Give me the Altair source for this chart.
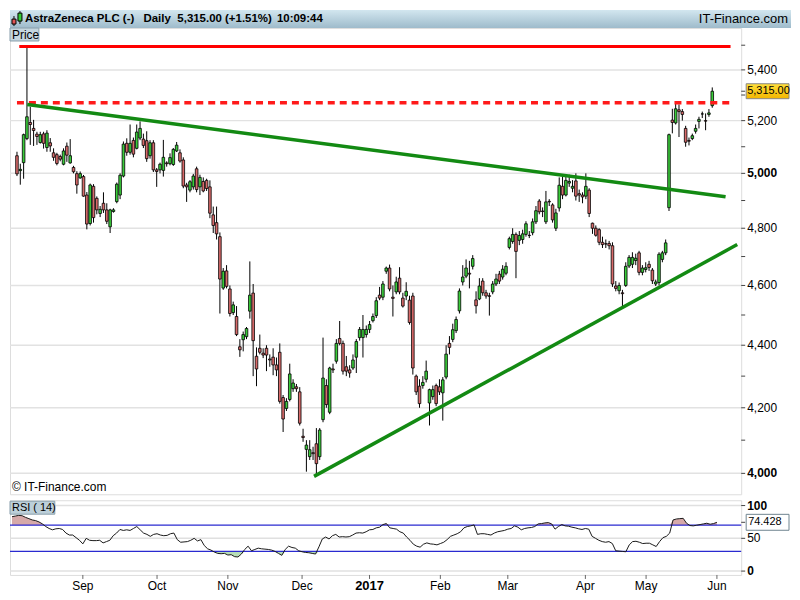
import altair as alt
import pandas as pd

# ---------------- values ----------------
opens = [
    5066, 5010, 5040, 5131, 5193, 5170, 5148, 5116, 5149, 5097,
    5115, 5077, 5070, 5063, 5034, 5102, 5039, 5022, 4999, 4983,
    4988, 4920, 4817, 4952, 4908, 4853, 4890, 4866, 4805, 4860,
    4896, 4920, 4990, 5113, 5079, 5124, 5094, 5133, 5129, 5123,
    5066, 5115, 5013, 5013, 5011, 5039, 5036, 5033, 5084, 5077,
    5050, 4957, 4938, 4950, 5017, 4950, 4970, 4974, 4950, 4848,
    4820, 4770, 4591, 4650, 4588, 4508, 4495, 4395, 4418, 4428,
    4513, 4574, 4364, 4390, 4374, 4390, 4355, 4361, 4336, 4377,
    4232, 4198, 4226, 4260, 4266, 4250, 4112, 4072, 4050, 4062,
    4089, 4050, 4163, 4270, 4186, 4323, 4348, 4422, 4406, 4330,
    4320, 4326, 4361, 4425, 4425, 4435, 4452, 4481, 4498, 4567,
    4560, 4649, 4660, 4560, 4578, 4625, 4557, 4564, 4550, 4564,
    4300, 4268, 4270, 4290, 4215, 4235, 4270, 4266, 4247, 4297,
    4406, 4419, 4448, 4514, 4612, 4632, 4642, 4666, 4551, 4554,
    4615, 4575, 4565, 4578, 4605, 4639, 4629, 4642, 4732, 4753,
    4778, 4757, 4760, 4778, 4775, 4784, 4823, 4898, 4862, 4823,
    4897, 4884, 4800, 4873, 4952, 4920, 4964, 4945, 4972, 4925,
    4920, 4916, 4938, 4818, 4800, 4795, 4750, 4745, 4746, 4738,
    4598, 4582, 4575, 4600, 4667, 4673, 4686, 4713, 4645, 4655,
    4673, 4653, 4605, 4610, 4690, 4713, 4874, 5202, 5191, 5242,
    5235, 5170, 5124, 5131, 5159, 5197, 5226, 5200, 5224, 5258,
]
highs = [
    5081, 5036, 5150, 5493, 5254, 5203, 5157, 5157, 5157, 5163,
    5133, 5094, 5077, 5070, 5094, 5116, 5129, 5028, 5008, 5007,
    4994, 4931, 4962, 4960, 4915, 4880, 4930, 4890, 4870, 4872,
    4966, 5000, 5120, 5132, 5185, 5135, 5185, 5197, 5150, 5159,
    5125, 5125, 5020, 5040, 5126, 5045, 5075, 5095, 5118, 5090,
    5060, 4965, 4975, 4998, 5025, 4995, 4985, 4980, 4974, 4878,
    4878, 4785, 4660, 4670, 4600, 4545, 4530, 4420, 4445, 4460,
    4683, 4605, 4393, 4435, 4390, 4400, 4370, 4390, 4360, 4406,
    4240, 4230, 4340, 4290, 4275, 4265, 4135, 4100, 4100, 4080,
    4137, 4137, 4425, 4290, 4330, 4340, 4420, 4480, 4415, 4365,
    4335, 4370, 4420, 4460, 4500, 4465, 4480, 4505, 4560, 4595,
    4615, 4665, 4672, 4600, 4630, 4663, 4575, 4611, 4565, 4575,
    4305, 4290, 4300, 4350, 4260, 4270, 4276, 4290, 4297, 4400,
    4430, 4471, 4495, 4590, 4670, 4690, 4685, 4705, 4580, 4625,
    4625, 4585, 4575, 4615, 4640, 4650, 4670, 4680, 4770, 4800,
    4785, 4790, 4795, 4825, 4790, 4835, 4880, 4905, 4875, 4935,
    4905, 4890, 4870, 4985, 4990, 4990, 4995, 4975, 5000, 4940,
    4930, 5000, 4945, 4820, 4810, 4800, 4770, 4760, 4755, 4750,
    4615, 4610, 4585, 4680, 4705, 4715, 4710, 4720, 4670, 4680,
    4685, 4660, 4620, 4715, 4720, 4760, 5150, 5246, 5265, 5263,
    5245, 5180, 5135, 5150, 5185, 5215, 5235, 5228, 5245, 5330,
]
lows = [
    4990, 4958, 4980, 5125, 5107, 5103, 5107, 5112, 5093, 5081,
    5081, 5047, 5030, 5045, 5030, 5043, 5036, 5000, 4925, 4980,
    4914, 4796, 4810, 4820, 4850, 4840, 4855, 4815, 4783, 4856,
    4890, 4905, 4985, 5066, 5070, 5060, 5090, 5125, 5095, 5043,
    5055, 5005, 4950, 5000, 4988, 5025, 5030, 5028, 5080, 5040,
    4945, 4895, 4930, 4940, 4930, 4920, 4930, 4935, 4836, 4783,
    4760, 4505, 4585, 4590, 4495, 4500, 4430, 4362, 4380, 4420,
    4488, 4300, 4268, 4370, 4358, 4316, 4330, 4303, 4300, 4213,
    4125, 4190, 4220, 4250, 4250, 4145, 4095, 4005, 4040, 4040,
    3995, 4040, 4155, 4200, 4180, 4310, 4340, 4400, 4305, 4300,
    4295, 4320, 4310, 4415, 4360, 4425, 4440, 4475, 4490, 4550,
    4550, 4640, 4580, 4495, 4570, 4570, 4525, 4550, 4468, 4305,
    4240, 4200, 4260, 4280, 4145, 4225, 4205, 4240, 4160, 4290,
    4370, 4410, 4440, 4505, 4600, 4625, 4590, 4655, 4505, 4550,
    4565, 4555, 4498, 4570, 4598, 4605, 4620, 4635, 4725, 4745,
    4625, 4740, 4745, 4770, 4765, 4775, 4815, 4850, 4840, 4815,
    4880, 4820, 4790, 4860, 4905, 4915, 4950, 4930, 4900, 4895,
    4890, 4905, 4840, 4780, 4770, 4740, 4730, 4730, 4725, 4595,
    4580, 4570, 4525, 4595, 4660, 4660, 4670, 4635, 4635, 4645,
    4650, 4605, 4598, 4600, 4680, 4705, 4862, 5151, 5185, 5137,
    5200, 5100, 5105, 5125, 5150, 5170, 5210, 5163, 5215, 5250,
]
closes = [
    4998, 5015, 5146, 5215, 5185, 5162, 5139, 5146, 5113, 5152,
    5103, 5060, 5037, 5053, 5084, 5068, 5066, 5006, 4957, 4999,
    4916, 4815, 4957, 4838, 4866, 4868, 4866, 4825, 4866, 4866,
    4960, 4993, 5110, 5079, 5113, 5072, 5156, 5170, 5105, 5055,
    5115, 5013, 5007, 5034, 5060, 5036, 5059, 5090, 5106, 5046,
    4953, 4950, 4969, 4990, 4940, 4985, 4935, 4944, 4854, 4810,
    4780, 4622, 4649, 4597, 4505, 4534, 4435, 4385, 4435, 4455,
    4567, 4415, 4323, 4377, 4368, 4368, 4352, 4336, 4320, 4220,
    4165, 4220, 4307, 4278, 4260, 4152, 4108, 4085, 4071, 4059,
    4029, 4131, 4294, 4210, 4326, 4320, 4406, 4406, 4316, 4316,
    4310, 4352, 4412, 4452, 4452, 4452, 4468, 4495, 4548, 4557,
    4605, 4660, 4588, 4556, 4612, 4578, 4530, 4580, 4475, 4326,
    4250, 4213, 4280, 4316, 4257, 4257, 4213, 4250, 4288, 4371,
    4393, 4451, 4485, 4581, 4629, 4660, 4639, 4693, 4531, 4598,
    4575, 4564, 4563, 4605, 4622, 4615, 4656, 4666, 4763, 4778,
    4718, 4774, 4780, 4816, 4774, 4823, 4863, 4859, 4860, 4895,
    4895, 4830, 4855, 4956, 4920, 4974, 4970, 4952, 4916, 4920,
    4913, 4952, 4853, 4800, 4775, 4750, 4742, 4744, 4738, 4605,
    4590, 4600, 4572, 4666, 4697, 4697, 4694, 4645, 4660, 4661,
    4662, 4616, 4612, 4708, 4713, 4748, 5146, 5193, 5246, 5235,
    5224, 5117, 5121, 5142, 5170, 5205, 5226, 5198, 5230, 5315,
]
rsi_values = [
    83, 84, 85, 84.5, 82, 80, 78, 77, 75, 72,
    68, 65, 63, 64.5, 65, 63.5, 58, 55, 55, 51,
    47, 41.5, 50, 47, 46.5, 46.5, 47, 43, 45, 47,
    54, 58, 63.5, 62, 63, 62, 65, 68, 63, 58,
    56, 53, 56, 57, 55, 54, 54.5, 57, 58, 48,
    44, 44.5, 45, 47, 50, 46, 48, 39, 34, 32,
    29, 27, 26.5, 27, 24.5, 25, 22, 21.5, 26, 33,
    38, 31, 33, 35, 34, 33.5, 33, 32, 30, 27,
    24, 33, 38, 36, 35, 31, 29.5, 28.5, 28, 27,
    26, 37, 49, 52, 49, 54, 56, 52, 52.5, 52,
    52.5, 55, 58, 58.5, 58, 60, 63, 63.5, 66, 67,
    71, 72.5, 66, 65, 64, 60, 58, 52, 47, 41,
    38, 36.5, 41, 43, 41.5, 41, 40, 42, 44, 48,
    53, 55, 57, 60, 66, 68, 69, 70.5, 56, 57,
    57, 56, 55, 58, 60, 61, 62, 64, 65, 69,
    67, 63, 65, 66, 66.5, 68, 72, 72.5, 73.5, 74,
    72, 64, 68, 71, 69, 68.5, 67, 66, 64.5, 63.5,
    65, 64, 53, 50, 47, 45, 44, 45, 42, 31,
    30.5, 30, 29.5, 40, 45, 45.5, 44, 42, 42.5, 42.5,
    40, 37.5, 45, 51, 53, 58, 78, 79.5, 80, 80.5,
    73, 69.5, 69, 70, 71, 72, 73, 71.5, 72.5, 74.428,
]
month_labels = ["Sep", "Oct", "Nov", "Dec", "2017", "Feb", "Mar", "Apr", "May", "Jun"]
month_index = [21, 43, 64, 86, 106, 127, 147, 170, 188, 209]
year_label = "2017"
price_ticks = [4000, 4100, 4200, 4300, 4400, 4500, 4600, 4700, 4800,
               4900, 5000, 5100, 5200, 5300, 5400, 5500]
price_labels = [4000, 4200, 4400, 4600, 4800, 5000, 5200, 5400]
bold_price_labels = [4000, 5000]
resistance_span = [0.7, 214.5]
resistance_level = 5495
pivot_span = [0.0, 215.0]
pivot_level = 5270
trend_down_x = [3.1, 213.0]
trend_down_y = [5263, 4914]
trend_up_x = [89.3, 216.5]
trend_up_y = [3991, 4742]
last_price = 5315.00
last_change = "+1.51%"
last_time = "10:09:44"
last_rsi = 74.428
rsi_levels = [30, 70]
rsi_grid = [0, 50, 100]
bold_rsi_labels = [0, 100]

# ---------------- chart ----------------
FONT = "Liberation Sans"
W, H, RH, HEADER, FULLW = 734, 468, 75, 18, 784

n = len(closes)
candles = pd.DataFrame({
    "i": list(range(n)),
    "o": opens,
    "c": closes,
    "h": [max(a, b, c) for a, b, c in zip(highs, opens, closes)],
    "l": [min(a, b, c) for a, b, c in zip(lows, opens, closes)],
})
candles["dir"] = ["up" if c >= o else "down" for o, c in zip(opens, closes)]

xs = alt.Scale(domain=[-0.6, 216.2], nice=False, zero=False)
ys = alt.Scale(type="log", domain=[3938.3, 5570.7], nice=False)
rs = alt.Scale(domain=[-5.9, 108.1], nice=False, zero=False)
one = pd.DataFrame({"k": [0]})
xq = alt.X("i:Q", scale=xs, axis=None)


def Yp(field):
    return alt.Y(field, scale=ys, axis=None)


def Yr(field):
    return alt.Y(field, scale=rs, axis=None)


def txt(s, x, y, size=12, bold=False, align="left"):
    return alt.Chart(one).mark_text(text=s, align=align, baseline="middle", fontSize=size,
                                    fontWeight="bold" if bold else "normal", font=FONT, color="#000").encode(
        x=alt.value(x), y=alt.value(y))


def box(x1, x2, y1, y2, fill, stroke):
    return alt.Chart(one).mark_rect(fill=fill, stroke=stroke, strokeWidth=1).encode(
        x=alt.value(x1), x2=alt.value(x2), y=alt.value(y1), y2=alt.value(y2))


# ---- price panel ----
grid = alt.Chart(pd.DataFrame({"v": price_labels})).mark_rule(color="#e2e2e2", strokeWidth=1.5).encode(
    y=Yp("v:Q"))
wicks = alt.Chart(candles).mark_rule(color="#000", strokeWidth=1).encode(x=xq, y=Yp("l:Q"), y2="h:Q")
bodies = alt.Chart(candles).mark_bar(size=2.6, stroke="#000", strokeWidth=0.8).encode(
    x=xq, y=Yp("o:Q"), y2="c:Q",
    color=alt.Color("dir:N", scale=alt.Scale(domain=["up", "down"], range=["#3acc3a", "#d86a6a"]), legend=None))

res_df = pd.DataFrame({"i": resistance_span, "p": [resistance_level] * 2})
piv_df = pd.DataFrame({"i": pivot_span, "p": [pivot_level] * 2})
red_solid = alt.Chart(res_df).mark_line(color="#ff0000", strokeWidth=3).encode(x=xq, y=Yp("p:Q"))
red_dash = alt.Chart(piv_df).mark_line(color="#ff1a1a", strokeWidth=3.5, strokeDash=[7, 5]).encode(
    x=xq, y=Yp("p:Q"))
tr_df = pd.DataFrame({
    "i": trend_down_x + trend_up_x,
    "p": trend_down_y + trend_up_y,
    "name": ["down", "down", "up", "up"],
})
trends = alt.Chart(tr_df).mark_line(color="#138a13", strokeWidth=3.5, clip=True).encode(
    x=xq, y=Yp("p:Q"), detail="name:N")

# right-hand price scale drawn as marks
yticks = alt.Chart(pd.DataFrame({"v": price_ticks + [last_price]})).mark_rule(color="#444").encode(
    x=alt.value(W), x2=alt.value(W + 4), y=Yp("v:Q"))
plab = pd.DataFrame({"v": price_labels})
plab["b"] = [v in bold_price_labels for v in price_labels]
ylab = alt.Chart(plab).transform_filter("!datum.b").mark_text(
    align="left", baseline="middle", fontSize=12, font=FONT, color="#000").encode(
    x=alt.value(W + 6), y=Yp("v:Q"), text=alt.Text("v:Q", format=","))
ylab_b = alt.Chart(plab).transform_filter("datum.b").mark_text(
    align="left", baseline="middle", fontSize=12, fontWeight="bold", font=FONT, color="#000").encode(
    x=alt.value(W + 6), y=Yp("v:Q"), text=alt.Text("v:Q", format=","))

hdr_grad = alt.LinearGradient(gradient="linear", x1=0, x2=0, y1=0, y2=1, stops=[
    alt.GradientStop(color="#d2e6ef", offset=0), alt.GradientStop(color="#9ebbcb", offset=1)])
header = alt.Chart(one).mark_rect(fill=hdr_grad).encode(
    x=alt.value(0), x2=alt.value(FULLW), y=alt.value(-HEADER), y2=alt.value(0))
hy = -HEADER / 2
icon = [
    alt.Chart(one).mark_rule(color="#000").encode(x=alt.value(4), y=alt.value(-12), y2=alt.value(-2)),
    box(2, 6, -9, -4, "#e05555", "#000"),
    alt.Chart(one).mark_rule(color="#000").encode(x=alt.value(10), y=alt.value(-17), y2=alt.value(-4)),
    box(8, 12, -15, -7, "#33cc33", "#000"),
]
head_txt = [
    txt("AstraZeneca PLC (-)", 15, hy, 11.5, True),
    txt("Daily", 134, hy, 11.5, True),
    txt(f"{last_price:,.2f} ({last_change})", 168, hy, 11.5, True),
    txt(last_time, 268, hy, 11.5, True),
    txt("IT-Finance.com", FULLW - 3, hy, 13, False, "right"),
]
price_tag = [box(0, 29, 0, 13, "#c5d6df", "#8aa0ac"), txt("Price", 2, 7, 12)]
copyright_txt = txt("\u00a9 IT-Finance.com", 2, H - 7, 12)

lp = pd.DataFrame({"p": [last_price]})
gold = alt.LinearGradient(gradient="linear", x1=0, x2=0, y1=0, y2=1, stops=[
    alt.GradientStop(color="#ffdf3a", offset=0), alt.GradientStop(color="#f2b600", offset=1)])
lp_box = alt.Chart(lp).mark_rect(fill=gold, stroke="#888", strokeWidth=1, yOffset=-7.5, y2Offset=7.5).encode(
    x=alt.value(W + 5), x2=alt.value(W + 48), y=Yp("p:Q"), y2="p:Q")
lp_txt = alt.Chart(lp).mark_text(align="left", baseline="middle", fontSize=11, font=FONT, color="#000").encode(
    x=alt.value(W + 6), y=Yp("p:Q"), text=alt.Text("p:Q", format=",.2f"))

main = alt.layer(grid, wicks, bodies, red_solid, red_dash, trends, yticks, ylab, ylab_b,
                 header, *icon, *head_txt, *price_tag, copyright_txt, lp_box, lp_txt
                 ).properties(width=W, height=H)

# ---- RSI panel ----
rsi_df = pd.DataFrame({"i": list(range(n)), "rsi": rsi_values})
rgrid = alt.Chart(pd.DataFrame({"v": rsi_grid})).mark_rule(color="#e0e0e0", strokeWidth=1.5).encode(y=Yr("v:Q"))
over = alt.Chart(rsi_df).transform_calculate(top="max(datum.rsi, 70)", base="70").mark_area(
    color="#d6a9a9").encode(x=xq, y=Yr("top:Q"), y2="base:Q")
under = alt.Chart(rsi_df).transform_calculate(bot="min(datum.rsi, 30)", base="30").mark_area(
    color="#b6ddb6").encode(x=xq, y=Yr("bot:Q"), y2="base:Q")
rlev = alt.Chart(pd.DataFrame({"v": rsi_levels})).mark_rule(color="#2a2ad0", strokeWidth=1.2).encode(y=Yr("v:Q"))
rline = alt.Chart(rsi_df).mark_line(color="#1a1a1a", strokeWidth=1).encode(x=xq, y=Yr("rsi:Q"))

rticks = alt.Chart(pd.DataFrame({"v": rsi_grid + [last_rsi]})).mark_rule(color="#444").encode(
    x=alt.value(W), x2=alt.value(W + 4), y=Yr("v:Q"))
rlab_df = pd.DataFrame({"v": rsi_grid})
rlab_df["b"] = [v in bold_rsi_labels for v in rsi_grid]
rlab = alt.Chart(rlab_df).transform_filter("!datum.b").mark_text(
    align="left", baseline="middle", fontSize=12, font=FONT, color="#000").encode(
    x=alt.value(W + 6), y=Yr("v:Q"), text=alt.Text("v:Q", format="d"))
rlab_b = alt.Chart(rlab_df).transform_filter("datum.b").mark_text(
    align="left", baseline="middle", fontSize=12, fontWeight="bold", font=FONT, color="#000").encode(
    x=alt.value(W + 6), y=Yr("v:Q"), text=alt.Text("v:Q", format="d"))

mdf = pd.DataFrame({"i": month_index, "lab": month_labels})
mdf["b"] = [m == year_label for m in month_labels]
xticks = alt.Chart(mdf).mark_rule(color="#666").encode(x=xq, y=alt.value(RH), y2=alt.value(RH + 4))
xlab = alt.Chart(mdf).transform_filter("!datum.b").mark_text(
    align="center", baseline="middle", fontSize=12, font=FONT, color="#000").encode(
    x=xq, y=alt.value(RH + 11), text="lab:N")
xlab_b = alt.Chart(mdf).transform_filter("datum.b").mark_text(
    align="center", baseline="middle", fontSize=13, fontWeight="bold", font=FONT, color="#000").encode(
    x=xq, y=alt.value(RH + 11), text="lab:N")

rtag = [box(0, 45, 1, 14, "#bccfd9", "#8aa0ac"), txt("RSI ( 14)", 2, 8, 11)]
lr = pd.DataFrame({"p": [last_rsi]})
lr_box = alt.Chart(lr).mark_rect(fill="#ffffff", stroke="#6f8590", strokeWidth=1, yOffset=-8, y2Offset=8).encode(
    x=alt.value(W + 5), x2=alt.value(W + 48), y=Yr("p:Q"), y2="p:Q")
lr_txt = alt.Chart(lr).mark_text(align="left", baseline="middle", fontSize=11, font=FONT, color="#000").encode(
    x=alt.value(W + 7), y=Yr("p:Q"), text=alt.Text("p:Q", format=".3f"))

rsi_chart = alt.layer(rgrid, over, under, rlev, rline, rticks, rlab, rlab_b, xticks, xlab, xlab_b,
                      *rtag, lr_box, lr_txt).properties(width=W, height=RH)

chart = alt.vconcat(main, rsi_chart, spacing=3).properties(padding=0).configure_view(
    stroke="#7f909b", strokeWidth=1.5).configure(background="white")

chart.save("out.html", embed_options={"renderer": "svg", "actions": False})
